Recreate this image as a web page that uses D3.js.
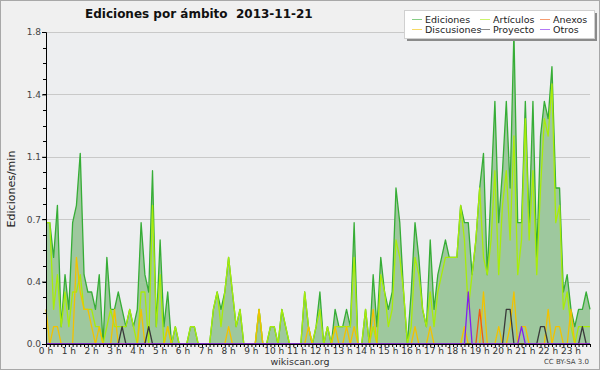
<!DOCTYPE html>
<html>
<head>
<meta charset="utf-8">
<script src="https://d3js.org/d3.v7.min.js"></script>
<style>
  body { margin: 0; background: #f0f0f0; }
  svg { display: block; font-family: "DejaVu Sans", sans-serif; }
</style>
</head>
<body>
<div id="chart"></div>
<script>
// 10-minute buckets, 0 h .. 23:50 h (edits per minute)
var ediciones = [
  0.7,0.7,0.5,0.8,0.1,0.4,0.2,0.7,0.8,1.1,0.4,0.3,0.3,0.2,0.4,0.0,0.5,0.2,0.2,0.3,0.2,0.1,0.2,0.1,
  0.2,0.7,0.4,0.3,1.0,0.1,0.6,0.1,0.3,0.0,0.1,0.0,0.0,0.0,0.1,0.1,0.0,0.0,0.0,0.0,0.2,0.3,0.2,0.3,
  0.5,0.3,0.1,0.2,0.0,0.0,0.0,0.0,0.2,0.0,0.0,0.1,0.1,0.0,0.2,0.1,0.0,0.0,0.0,0.0,0.3,0.1,0.0,0.1,
  0.3,0.0,0.1,0.0,0.2,0.1,0.1,0.2,0.1,0.7,0.0,0.0,0.2,0.0,0.4,0.1,0.5,0.3,0.2,0.3,0.9,0.7,0.3,0.0,
  0.3,0.7,0.5,0.2,0.1,0.6,0.2,0.4,0.5,0.6,0.5,0.5,0.5,0.8,0.7,0.7,0.4,0.6,0.9,1.1,0.4,0.9,1.4,0.7,
  1.0,1.4,0.9,1.8,0.7,0.7,1.4,0.7,1.4,0.5,1.2,1.4,1.3,1.6,0.9,0.9,0.3,0.4,0.2,0.1,0.2,0.2,0.3,0.2
];
var articulos = [
  0.7,0.7,0.2,0.4,0.1,0.3,0.1,0.3,0.3,0.4,0.2,0.2,0.2,0.1,0.1,0.0,0.1,0.2,0.1,0.1,0.1,0.1,0.2,0.1,
  0.0,0.3,0.3,0.0,0.8,0.1,0.4,0.0,0.1,0.0,0.1,0.0,0.0,0.0,0.1,0.1,0.0,0.0,0.0,0.0,0.2,0.3,0.1,0.3,
  0.5,0.3,0.1,0.2,0.0,0.0,0.0,0.0,0.2,0.0,0.0,0.1,0.1,0.0,0.2,0.1,0.0,0.0,0.0,0.0,0.3,0.1,0.0,0.1,
  0.2,0.0,0.1,0.0,0.1,0.1,0.1,0.1,0.1,0.5,0.0,0.0,0.2,0.0,0.1,0.0,0.4,0.3,0.1,0.2,0.6,0.5,0.3,0.0,
  0.1,0.5,0.4,0.2,0.1,0.3,0.1,0.3,0.4,0.5,0.5,0.5,0.5,0.8,0.6,0.2,0.4,0.6,0.9,0.5,0.4,0.6,1.0,0.4,
  0.8,1.0,0.6,1.2,0.4,0.6,1.3,0.6,1.0,0.4,0.9,1.3,1.2,1.5,0.7,0.8,0.2,0.3,0.1,0.0,0.1,0.1,0.1,0.1
];
var discusiones = [
  0.2,0.0,0.1,0.1,0.0,0.0,0.0,0.0,0.5,0.3,0.2,0.2,0.1,0.0,0.1,0.0,0.0,0.0,0.2,0.0,0.0,0.0,0.0,0.0,
  0.0,0.2,0.0,0.0,0.0,0.0,0.0,0.0,0.1,0.0,0.0,0.0,0.0,0.0,0.0,0.0,0.0,0.0,0.0,0.0,0.0,0.0,0.0,0.0,
  0.1,0.0,0.0,0.0,0.0,0.0,0.0,0.0,0.2,0.0,0.0,0.0,0.0,0.0,0.0,0.0,0.0,0.0,0.0,0.0,0.0,0.1,0.0,0.0,
  0.0,0.0,0.0,0.0,0.1,0.0,0.0,0.1,0.0,0.1,0.0,0.0,0.0,0.0,0.2,0.0,0.0,0.0,0.0,0.0,0.0,0.0,0.0,0.0,
  0.0,0.1,0.0,0.0,0.0,0.1,0.0,0.0,0.0,0.0,0.0,0.0,0.0,0.0,0.1,0.0,0.0,0.0,0.0,0.3,0.0,0.0,0.0,0.1,
  0.0,0.0,0.1,0.3,0.0,0.1,0.1,0.0,0.0,0.0,0.0,0.0,0.2,0.0,0.1,0.1,0.0,0.0,0.2,0.0,0.0,0.0,0.0,0.0
];
var anexos = [
  0,0,0,0,0,0,0,0,0,0,0,0,0,0,0,0,0,0,0,0,0,0,0,0,
  0,0,0,0,0,0,0,0,0,0,0,0,0,0,0,0,0,0,0,0,0,0,0,0,
  0,0,0,0,0,0,0,0,0,0,0,0,0,0,0,0,0,0,0,0,0,0,0,0,
  0,0,0,0,0,0,0,0,0,0,0,0,0,0,0,0,0,0,0,0,0,0,0,0,
  0,0,0,0,0,0,0,0,0,0,0,0,0,0,0,0,0,0,0.2,0,0,0,0,0,
  0,0,0,0,0,0,0,0,0,0,0,0,0,0,0,0,0,0,0,0,0,0,0,0
];
var proyecto = [
  0,0,0,0,0,0,0,0,0,0,0,0,0,0,0,0,0,0,0,0,0.1,0,0,0,
  0,0,0,0.1,0,0,0,0,0,0,0,0,0,0,0,0,0,0,0,0,0,0,0,0,
  0,0,0,0,0,0,0,0,0,0,0,0,0,0,0,0,0,0,0,0,0,0,0,0,
  0,0,0,0,0,0,0,0,0,0,0,0,0,0,0,0,0,0,0,0,0,0,0,0,
  0,0,0,0,0,0,0,0,0,0,0,0,0,0,0,0,0,0,0,0,0,0,0,0,
  0,0.2,0.2,0,0,0,0,0,0,0,0.1,0.1,0,0,0,0,0,0,0,0,0,0.1,0,0
];
var otros = [
  0,0,0,0,0,0,0,0,0,0,0,0,0,0,0,0,0,0,0,0,0,0,0,0,
  0,0,0,0,0,0,0,0,0,0,0,0,0,0,0,0,0,0,0,0,0,0,0,0,
  0,0,0,0,0,0,0,0,0,0,0,0,0,0,0,0,0,0,0,0,0,0,0,0,
  0,0,0,0,0,0,0,0,0,0,0,0,0,0,0,0,0,0,0,0,0,0,0,0,
  0,0,0,0,0,0,0,0,0,0,0,0,0,0,0,0.3,0,0,0,0,0,0,0,0,
  0,0,0,0,0,0.1,0,0,0,0,0,0,0,0,0,0,0,0,0,0,0,0,0,0
];
var yTicks = [0, 0.36, 0.72, 1.08, 1.44, 1.8];
var hourLabels = ["0 h","1 h","2 h","3 h","4 h","5 h","6 h","7 h","8 h","9 h","10 h","11 h",
                  "12 h","13 h","14 h","15 h","16 h","17 h","18 h","19 h","20 h","21 h","22 h","23 h"];

var width = 600, height = 370;
var margin = {top: 32, right: 10, bottom: 26, left: 46};

var svg = d3.select("#chart").append("svg")
    .attr("width", width)
    .attr("height", height);

// background + frame
svg.append("rect")
    .attr("x", 0.5).attr("y", 0.5)
    .attr("width", width - 1).attr("height", height - 1)
    .attr("fill", "#f0f0f0")
    .attr("stroke", "#a8a8a8");

var x = d3.scaleLinear()
    .domain([0, ediciones.length - 1])
    .range([margin.left, width - margin.right]);

var y = d3.scaleLinear()
    .domain([0, 1.8])
    .range([height - margin.bottom, margin.top]);

// plot background
svg.append("rect")
    .attr("x", margin.left).attr("y", margin.top)
    .attr("width", width - margin.right - margin.left)
    .attr("height", height - margin.bottom - margin.top)
    .attr("fill", "#edeef0");

// grid lines
svg.append("g")
    .selectAll("line")
    .data(yTicks.slice(1))
    .enter().append("line")
        .attr("x1", margin.left)
        .attr("x2", width - margin.right)
        .attr("y1", function(d) { return Math.round(y(d)) + 0.5; })
        .attr("y2", function(d) { return Math.round(y(d)) + 0.5; })
        .attr("stroke", "#c9c9c9");

// Ediciones area
var area = d3.area()
    .x(function(d, i) { return x(i); })
    .y0(y(0))
    .y1(function(d) { return y(d); });

svg.append("path")
    .datum(ediciones)
    .attr("d", area)
    .attr("fill", "#9ec89e");

var line = d3.line()
    .x(function(d, i) { return x(i); })
    .y(function(d) { return y(d); });

var series = [
    {name: "Ediciones", values: ediciones, color: "#36ad36"},
    {name: "Artículos", values: articulos, color: "#a8ec0a"},
    {name: "Discusiones", values: discusiones, color: "#f2c200"},
    {name: "Anexos", values: anexos, color: "#f05a10"},
    {name: "Proyecto", values: proyecto, color: "#3a3a3a"},
    {name: "Otros", values: otros, color: "#8020f0"}
];

series.forEach(function(s) {
    svg.append("path")
        .datum(s.values)
        .attr("d", line)
        .attr("fill", "none")
        .attr("stroke", s.color)
        .attr("stroke-width", 1.3)
        .attr("stroke-linejoin", "round");
});

/* AXES */
var yAxis = svg.append("g")
    .attr("transform", "translate(" + margin.left + ",0)")
    .call(d3.axisLeft(y).tickValues(yTicks).tickFormat(d3.format(".1f")).tickSize(4).tickPadding(1));
yAxis.select(".domain").attr("stroke", "#000");
yAxis.selectAll("text").attr("font-size", "9px").attr("fill", "#444").attr("font-family", "DejaVu Sans");

var minorY = d3.range(0, 21).map(function(k) { return k * 0.09; });
svg.append("g")
    .selectAll("line")
    .data(minorY)
    .enter().append("line")
        .attr("x1", margin.left - 3)
        .attr("x2", margin.left)
        .attr("y1", function(d) { return Math.round(y(d)) + 0.5; })
        .attr("y2", function(d) { return Math.round(y(d)) + 0.5; })
        .attr("stroke", "#000");

var xAxis = svg.append("g")
    .attr("transform", "translate(0," + (height - margin.bottom) + ")")
    .call(d3.axisBottom(x).tickValues(d3.range(0, ediciones.length)).tickFormat("").tickSize(3).tickSizeOuter(0));
xAxis.select(".domain").attr("stroke", "#000");

svg.append("g")
    .selectAll("text")
    .data(hourLabels)
    .enter().append("text")
        .attr("x", function(d, i) { return x(i * 6); })
        .attr("y", 354)
        .attr("text-anchor", "middle")
        .attr("font-size", "9px")
        .attr("fill", "#333")
        .text(function(d) { return d; });

/* TEXTS */
svg.append("text")
    .attr("x", 85)
    .attr("y", 18)
    .attr("font-size", "12px")
    .attr("font-weight", "bold")
    .attr("fill", "#111")
    .attr("xml:space", "preserve")
    .text("Ediciones por ámbito  2013-11-21");

svg.append("text")
    .attr("transform", "rotate(-90)")
    .attr("x", -189)
    .attr("y", 15)
    .attr("text-anchor", "middle")
    .attr("font-size", "11px")
    .attr("fill", "#222")
    .text("Ediciones/min");

svg.append("text")
    .attr("x", 300)
    .attr("y", 365)
    .attr("text-anchor", "middle")
    .attr("font-size", "9.5px")
    .attr("fill", "#333")
    .text("wikiscan.org");

svg.append("text")
    .attr("x", 589)
    .attr("y", 364)
    .attr("text-anchor", "end")
    .attr("font-size", "7px")
    .attr("fill", "#444")
    .text("CC BY-SA 3.0");

/* LEGEND */
var legend = svg.append("g");
legend.append("rect")
    .attr("x", 407).attr("y", 13)
    .attr("width", 190).attr("height", 28)
    .attr("fill", "#8a8a8a");
legend.append("rect")
    .attr("x", 404.5).attr("y", 10.5)
    .attr("width", 190).attr("height", 28)
    .attr("fill", "#fff")
    .attr("stroke", "#d0d0d0");

var legendCols = [412, 480, 540];
var legendRows = [19, 29];
var legendOrder = ["Ediciones", "Artículos", "Anexos", "Discusiones", "Proyecto", "Otros"];

legendOrder.forEach(function(name, i) {
    var s = series.find(function(d) { return d.name === name; });
    var lx = legendCols[i % 3], ly = legendRows[Math.floor(i / 3)];
    legend.append("line")
        .attr("x1", lx).attr("x2", lx + 10)
        .attr("y1", ly + 0.5).attr("y2", ly + 0.5)
        .attr("stroke", s.color)
        .attr("stroke-opacity", 0.6);
    legend.append("text")
        .attr("x", lx + 13)
        .attr("y", ly + 3.5)
        .attr("font-size", "9.5px")
        .attr("fill", "#222")
        .text(name);
});
</script>
</body>
</html>
